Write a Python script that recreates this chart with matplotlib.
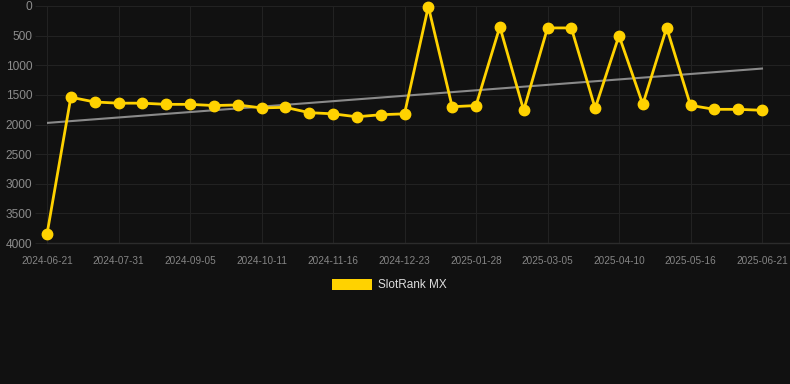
import matplotlib
matplotlib.use("Agg")
import matplotlib.pyplot as plt
import numpy as np
from matplotlib.patches import Rectangle

# ---- data ----
ranks = [3850, 1540, 1620, 1640, 1640, 1660, 1660, 1680, 1670, 1720,
         1710, 1800, 1820, 1870, 1835, 1820, 10, 1700, 1680, 350,
         1760, 370, 370, 1727, 500, 1660, 366, 1677, 1744, 1744, 1760]
tick_labels = ["2024-06-21", "2024-07-31", "2024-09-05", "2024-10-11",
               "2024-11-16", "2024-12-23", "2025-01-28", "2025-03-05",
               "2025-04-10", "2025-05-16", "2025-06-21"]
y_ticks = [0, 500, 1000, 1500, 2000, 2500, 3000, 3500, 4000]
series_name = "SlotRank MX"

W, H = 790, 384
fig = plt.figure(figsize=(W / 100, H / 100), dpi=100)
bg = "#111111"
fig.patch.set_facecolor(bg)

left, right, top, bottom = 47, 790, 6, 243
ax = fig.add_axes([left / W, 1 - bottom / H, (right - left) / W, (bottom - top) / H])
ax.set_facecolor(bg)

x = np.arange(len(ranks))
step = (762 - 47) / (len(ranks) - 1)
ax.set_xlim(0, (right - left) / step)
ax.set_ylim(4000, 0)

# trend line (least squares fit)
coef = np.polyfit(x, ranks, 1)
ax.plot([x[0], x[-1]], np.polyval(coef, [x[0], x[-1]]), color="#8a8a8a",
        lw=1.5, zorder=2)

ax.plot(x, ranks, color="#FFD200", lw=2.0, marker="o", markersize=7.5,
        markerfacecolor="#FFD200", markeredgecolor="#FFD200", zorder=3,
        clip_on=False)

for s in ax.spines.values():
    s.set_visible(False)
ax.axhline(4000, color="#2c2c2c", lw=1.0, zorder=1, clip_on=False)

ax.set_yticks(y_ticks)
ax.set_yticklabels([str(v) for v in y_ticks], fontsize=8.6, color="#8c8c8c",
                   family="Liberation Sans")
ax.set_xticks(x[::3])
ax.set_xticklabels(tick_labels, fontsize=7.2, color="#858585",
                   family="Liberation Sans")
ax.tick_params(axis="y", length=9, color="#222222", pad=1.5)
ax.tick_params(axis="x", length=0, pad=9.5)
ax.grid(True, color="#222222", lw=0.8)
ax.set_axisbelow(True)

# legend
fig.patches.append(Rectangle((332 / W, 1 - 290 / H), 40 / W, 11 / H,
                             transform=fig.transFigure, facecolor="#FFD200",
                             edgecolor="none"))
fig.text(378 / W, 1 - 285 / H, series_name, fontsize=8.5, color="#dddddd",
         family="Liberation Sans", va="center", ha="left")

fig.savefig("out.png", dpi=100, facecolor=bg)
